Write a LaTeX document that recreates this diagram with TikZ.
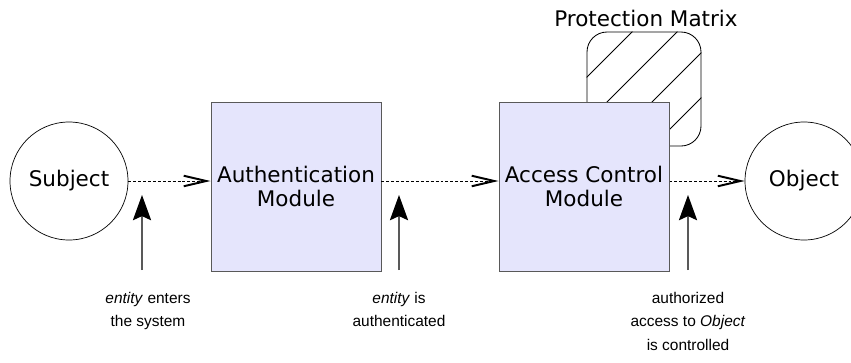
\documentclass[tikz,border=0pt]{standalone}
\usepackage{fontspec}
\setmainfont{DejaVu Sans}
\newfontfamily\labfont{Liberation Sans}
\usetikzlibrary{arrows.meta,positioning}
\definecolor{boxfill}{RGB}{229,229,252}
\tikzset{
  entity/.style={circle,draw,line width=0.5pt,minimum size=2.95cm,inner sep=0pt,font=\fontsize{15.3}{17}\selectfont},
  module/.style={draw=black!65,fill=boxfill,line width=0.7pt,minimum width=4.25cm,minimum height=4.225cm,inner sep=0pt,align=center,font=\fontsize{15.3}{17}\selectfont},
  flow/.style={line width=0.6pt,dash pattern=on 2.1pt off 1.4pt,-{Straight Barb[length=16pt,width=7.5pt,line width=1.4pt]}},
  event/.style={draw=black!65,line width=0.8pt,-{Stealth[length=18pt,width=13pt,inset=3pt,black]}},
  note/.style={align=center,inner sep=0pt,font=\labfont\fontsize{11}{16.6}\selectfont}
}
\begin{document}
\begin{tikzpicture}
      \useasboundingbox (0,0) rectangle (21.275,9.05);
      \clip (0,0) rectangle (21.275,9.05);

      \node[entity] (subj) at (1.725,4.525) {Subject};
      \node[entity] (obj) at (20.1,4.525) {Object};

      \node[draw,line width=0.6pt,rounded corners=0.5cm,minimum size=2.85cm,inner sep=0pt] (matrix) at (16.1,6.825) {};
      \begin{scope}
        \clip[rounded corners=0.5cm] (matrix.south west) rectangle (matrix.north east);
        \foreach \k in {7.55,8.675,9.8,10.925}
          \draw[line width=0.6pt] (\k+4,4) -- (\k+10,10);
      \end{scope}
      \node[font=\fontsize{15.3}{17}\selectfont] (mlabel) at (16.15,8.6) {Protection Matrix};

      \node[module] (auth) at (7.4,4.3875) {Authentication\\Module};
      \node[module] (acm) at (14.6,4.3875) {Access Control\\Module};

      \draw[flow] (subj.east) -- (subj.east -| auth.west);
      \draw[flow] (subj.east -| auth.east) -- (subj.east -| acm.west);
      \draw[flow] (subj.east -| acm.east) -- (obj.west);

      \coordinate (b0) at (3.55,2.3);
      \coordinate (b1) at (9.975,2.3);
      \coordinate (b2) at (17.2,2.3);
      \coordinate (t0) at (3.55,4.175);
      \coordinate (t1) at (9.975,4.175);
      \coordinate (t2) at (17.2,4.175);
      \draw[event] (b0) -- (t0);
      \draw[event] (b1) -- (t1);
      \draw[event] (b2) -- (t2);

      \node[note,anchor=north] (l0) at ([xshift=0.15cm,yshift=-0.55cm]b0) {\textit{entity} enters\\the system};
      \node[note,anchor=north] (l1) at ([yshift=-0.55cm]b1) {\textit{entity} is\\authenticated};
      \node[note,anchor=north] (l2) at ([yshift=-0.55cm]b2) {authorized\\access to \textit{Object}\\is controlled};
\end{tikzpicture}
\end{document}
